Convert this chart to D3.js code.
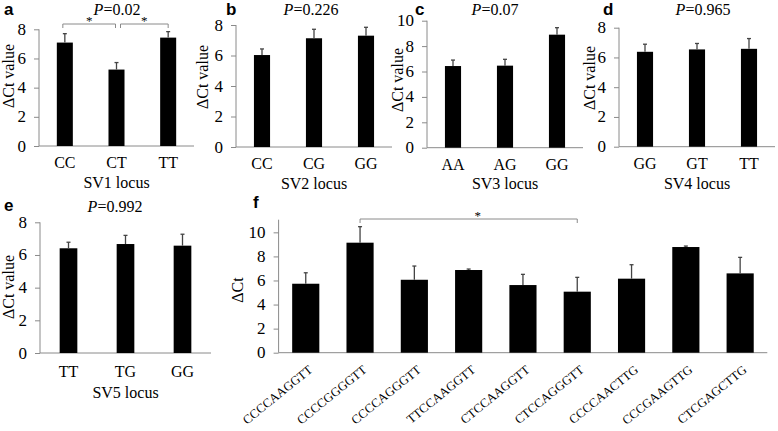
<!DOCTYPE html>
<html><head><meta charset="utf-8">
<script src="https://cdn.jsdelivr.net/npm/d3@7"></script>
<style>
html,body{margin:0;padding:0;background:#fff;}
svg{display:block;}
text{font-family:"Liberation Serif","Times New Roman",serif;fill:#000;}
</style></head>
<body>
<svg id="chart" width="778" height="431"></svg>
<script>
// ---- data ----
const sv1Cats = ["CC", "CT", "TT"];
const sv1Mean = [7.09, 5.24, 7.43];
const sv1Err  = [0.61, 0.48, 0.41];

const sv2Cats = ["CC", "CG", "GG"];
const sv2Mean = [6.03, 7.13, 7.30];
const sv2Err  = [0.40, 0.59, 0.55];

const sv3Cats = ["AA", "AG", "GG"];
const sv3Mean = [6.43, 6.46, 8.90];
const sv3Err  = [0.47, 0.50, 0.55];

const sv4Cats = ["GG", "GT", "TT"];
const sv4Mean = [6.38, 6.54, 6.58];
const sv4Err  = [0.51, 0.40, 0.69];

const sv5Cats = ["TT", "TG", "GG"];
const sv5Mean = [6.41, 6.67, 6.57];
const sv5Err  = [0.37, 0.53, 0.70];

const hapCats = ["CCCCAAGGTT", "CCCCGGGGTT", "CCCCAGGGTT", "TTCCAAGGTT", "CTCCAAGGTT",
                 "CTCCAGGGTT", "CCCCAACTTG", "CCCGAAGTTG", "CTCGAGCTTG"];
const hapMean = [5.73, 9.14, 6.06, 6.87, 5.62, 5.07, 6.15, 8.78, 6.59];
const hapErr  = [0.91, 1.33, 1.14, 0.08, 0.89, 1.19, 1.16, 0.08, 1.33];

const ticks8  = [0, 2, 4, 6, 8];
const ticks10 = [0, 2, 4, 6, 8, 10];

const svg = d3.select("#chart");
const AXC = "#8a8a8a";
const SERIF = "'Liberation Serif', 'Times New Roman', serif";

function panel(o) {
  const g = svg.append("g");
  const x = d3.scalePoint().domain(o.cats).range([o.x0, o.x1]).padding(0.5);
  const step = x.step();
  const bw = step * o.bwFrac;
  const y = d3.scaleLinear().domain([0, o.ymax]).range([o.yb, o.yt]);

  // y axis (line + ticks from d3, labels drawn explicitly)
  const ya = g.append("g").attr("transform", `translate(${o.x0},0)`)
    .call(d3.axisLeft(y).tickValues(o.ticks).tickSize(5).tickFormat(""));
  ya.select(".domain").attr("stroke", AXC).attr("d", `M0,${y(o.ymax)}V${y(0)}`);
  ya.selectAll(".tick line").attr("stroke", AXC);
  g.selectAll("text.ylab").data(o.ticks).join("text").attr("class", "ylab")
    .attr("x", o.x0 - 13).attr("y", d => y(d) + 5.5)
    .attr("text-anchor", "end").style("font-size", "17px").text(d => d);

  // x axis
  const xa = g.append("g").attr("transform", `translate(0,${o.yb})`)
    .call(d3.axisBottom(x).tickSize(0).tickFormat(""));
  xa.select(".domain").attr("stroke", AXC).attr("d", `M${o.x0},0H${o.x1}`);
  const cl = g.selectAll("text.xlab").data(o.cats).join("text").attr("class", "xlab");
  if (o.rot) {
    cl.attr("text-anchor", "end").style("font-size", "12.6px")
      .attr("transform", d => `translate(${x(d) + 7.5},${o.yb + 18.5}) rotate(-39)`).text(d => d);
  } else {
    cl.attr("text-anchor", "middle").style("font-size", "16px")
      .attr("x", d => x(d)).attr("y", o.yb + o.catDy).text(d => d);
  }

  // bars
  g.selectAll("rect.bar").data(o.mean).join("rect").attr("class", "bar")
    .attr("x", (d, i) => x(o.cats[i]) - bw / 2).attr("width", bw)
    .attr("y", d => y(d)).attr("height", d => y(0) - y(d)).attr("fill", "#000");
  // error bars
  g.selectAll("line.err").data(o.mean).join("line").attr("class", "err")
    .attr("x1", (d, i) => x(o.cats[i])).attr("x2", (d, i) => x(o.cats[i]))
    .attr("y1", d => y(d)).attr("y2", (d, i) => y(d + o.err[i]))
    .attr("stroke", "#444").attr("stroke-width", 1.3);
  g.selectAll("line.cap").data(o.mean).join("line").attr("class", "cap")
    .attr("x1", (d, i) => x(o.cats[i]) - 2).attr("x2", (d, i) => x(o.cats[i]) + 2)
    .attr("y1", (d, i) => y(d + o.err[i])).attr("y2", (d, i) => y(d + o.err[i]))
    .attr("stroke", "#444").attr("stroke-width", 1.3);

  // y title
  g.append("text").attr("transform", `translate(${o.ytX},${o.ytY}) rotate(-90)`)
    .attr("text-anchor", "middle").style("font-size", "16px").text(o.ytitle);
  // x title
  if (o.xtitle) {
    g.append("text").attr("x", x(o.cats[1])).attr("y", o.xtY)
      .attr("text-anchor", "middle").style("font-size", "16px").text(o.xtitle);
  }
  // P title
  if (o.p) {
    const t = g.append("text").attr("x", o.pX).attr("y", o.pY).attr("text-anchor", "middle").style("font-size", "16px");
    t.append("tspan").style("font-style", "italic").text("P");
    t.append("tspan").text("=" + o.p);
  }
  // panel letter
  g.append("text").attr("x", o.lX).attr("y", o.lY)
    .style("font-family", "'Liberation Sans', Arial, sans-serif").style("font-weight", "bold").style("font-size", "17px").text(o.letter);

  // significance brackets
  (o.brackets || []).forEach(b => {
    const xa_ = x(o.cats[b[0]]) + (b[3] || 0), xb_ = x(o.cats[b[1]]) + (b[4] || 0);
    g.append("path").attr("d", `M${xa_},${b[2] + 4}V${b[2]}H${xb_}V${b[2] + 4}`)
      .attr("fill", "none").attr("stroke", AXC).attr("stroke-width", 1);
    g.append("text").attr("x", (xa_ + xb_) / 2 + (b[5] || 0)).attr("y", b[2] + 1)
      .attr("text-anchor", "middle").style("font-size", "13px").text("*");
  });
}

panel({cats: sv1Cats, mean: sv1Mean, err: sv1Err, x0: 39, x1: 194, bwFrac: 0.31, yb: 146, yt: 29.3, ymax: 8, ticks: ticks8,
  catDy: 22, xtitle: "SV1 locus", xtY: 188, ytitle: "\u0394Ct value", ytX: 14, ytY: 76,
  p: "0.02", pX: 117, pY: 15, letter: "a", lX: 4, lY: 15,
  brackets: [[0, 1, 24, -2, -1], [1, 2, 24, 4, 0]]});
panel({cats: sv2Cats, mean: sv2Mean, err: sv2Err, x0: 236, x1: 392, bwFrac: 0.31, yb: 147, yt: 25, ymax: 8, ticks: ticks8,
  catDy: 22, xtitle: "SV2 locus", xtY: 189, ytitle: "\u0394Ct value", ytX: 208, ytY: 77,
  p: "0.226", pX: 311, pY: 15, letter: "b", lX: 226, lY: 15});
panel({cats: sv3Cats, mean: sv3Mean, err: sv3Err, x0: 427, x1: 583, bwFrac: 0.31, yb: 147.7, yt: 20.7, ymax: 10, ticks: ticks10,
  catDy: 22, xtitle: "SV3 locus", xtY: 189, ytitle: "\u0394Ct value", ytX: 403, ytY: 80,
  p: "0.07", pX: 495, pY: 15, letter: "c", lX: 415, lY: 15});
panel({cats: sv4Cats, mean: sv4Mean, err: sv4Err, x0: 619, x1: 775, bwFrac: 0.31, yb: 146.7, yt: 27.7, ymax: 8, ticks: ticks8,
  catDy: 22, xtitle: "SV4 locus", xtY: 189, ytitle: "\u0394Ct value", ytX: 595, ytY: 78,
  p: "0.965", pX: 703, pY: 15, letter: "d", lX: 603, lY: 15});
panel({cats: sv5Cats, mean: sv5Mean, err: sv5Err, x0: 40, x1: 211, bwFrac: 0.31, yb: 353, yt: 222.3, ymax: 8, ticks: ticks8,
  catDy: 24, xtitle: "SV5 locus", xtY: 398, ytitle: "\u0394Ct value", ytX: 13.5, ytY: 287,
  p: "0.992", pX: 115, pY: 212, letter: "e", lX: 4, lY: 211});
panel({cats: hapCats, mean: hapMean, err: hapErr, x0: 278.6, x1: 767.3, bwFrac: 0.5, yb: 352.7, yt: 219.7, ymax: 11.05, ticks: ticks10,
  rot: true, ytitle: "\u0394Ct", ytX: 243, ytY: 290,
  letter: "f", lX: 253, lY: 208,
  brackets: [[1, 5, 219, 0, 0, 9]]});
</script>
</body></html>
